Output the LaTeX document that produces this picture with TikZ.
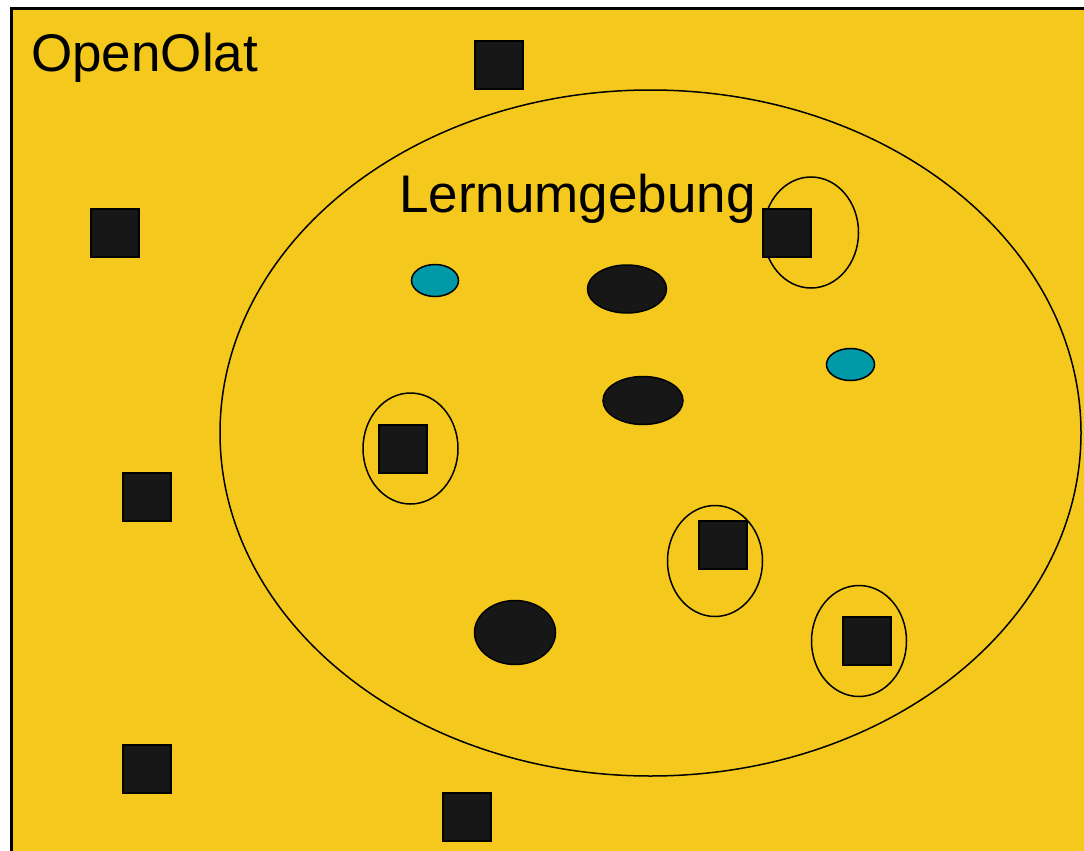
\documentclass[tikz,border=0pt]{standalone}
\usepackage{fontspec}
\setmainfont{Liberation Sans}
\usetikzlibrary{shapes.geometric, positioning}

\definecolor{olatgelb}{RGB}{244,200,28}
\definecolor{tuerkis}{RGB}{0,153,168}
\definecolor{fastschwarz}{RGB}{23,23,23}

\begin{document}
\begin{tikzpicture}[
    x = 1pt,
    y = -1pt,
    titel/.style = {
      anchor = base west,
      inner sep = 0pt,
      font = \fontsize{53}{60}\selectfont,
    },
    teilnehmer/.style = {
      draw,
      rectangle,
      fill = fastschwarz,
      line width = 2pt,
      inner sep = 0pt,
      minimum size = 48pt,
    },
    gruppe/.style = {
      draw,
      ellipse,
      line width = 1.5pt,
      inner sep = 0pt,
      minimum width = 95pt,
      minimum height = 111pt,
    },
    objekt/.style = {
      draw,
      ellipse,
      line width = 1.5pt,
      inner sep = 0pt,
    },
  ]
  \useasboundingbox (0,0) rectangle (1084,851);
  \fill [white] (0,0) rectangle (1084,851);
  \draw [line width = 3pt, fill = olatgelb] (11.5,8.5) rectangle (1110,880);

  \node [titel] (olat) at (31,71) {OpenOlat};

  \node [draw, ellipse, line width = 1.5pt, inner sep = 0pt,
    minimum width = 861pt, minimum height = 686pt] (lern) at (650.5,433) {};
  \node [titel] (lern titel) at (399,212) {Lernumgebung};

  % gruppen
  \node [gruppe] (g1) at (811,232.5) {};
  \node [gruppe] (g2) at (410.5,448.5) {};
  \node [gruppe] (g3) at (715,561) {};
  \node [gruppe] (g4) at (859,641) {};

  % teilnehmer
  \node [teilnehmer] (t1) at (499,65) {};
  \node [teilnehmer] (t2) at (115,233) {};
  \node [teilnehmer] (t3) at (147,497) {};
  \node [teilnehmer] (t4) at (147,769) {};
  \node [teilnehmer] (t5) at (467,817) {};
  \node [teilnehmer] (t6) at (787,233) {};
  \node [teilnehmer] (t7) at (403,449) {};
  \node [teilnehmer] (t8) at (723,545) {};
  \node [teilnehmer] (t9) at (867,641) {};

  % objekte
  \node [objekt, fill = fastschwarz, minimum width = 79pt, minimum height = 48pt]
    (o1) at (627,289) {};
  \node [objekt, fill = fastschwarz, minimum width = 80pt, minimum height = 48pt]
    (o2) at (643,400.5) {};
  \node [objekt, fill = fastschwarz, minimum width = 81pt, minimum height = 64pt]
    (o3) at (515,632.5) {};
  \node [objekt, fill = tuerkis, minimum width = 47pt, minimum height = 32pt]
    (o4) at (435,280.5) {};
  \node [objekt, fill = tuerkis, minimum width = 48pt, minimum height = 32pt]
    (o5) at (850.5,364.5) {};
\end{tikzpicture}
\end{document}
